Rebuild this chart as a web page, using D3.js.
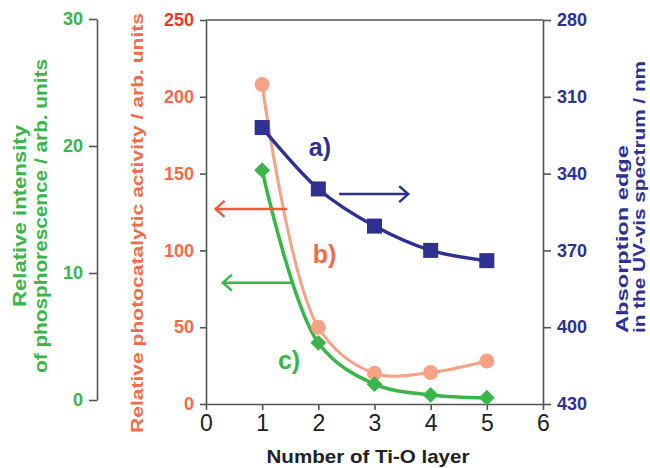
<!DOCTYPE html>
<html>
<head>
<meta charset="utf-8">
<script src="https://cdn.jsdelivr.net/npm/d3@7"></script>
<style>
  body { margin: 0; background: #fff; }
  svg { font-family: "Liberation Sans", Arial, Helvetica, sans-serif; }
</style>
</head>
<body>
<div id="chart-area"></div>
<script>
// data
const layers = [1, 2, 3, 4, 5]
const absorptionEdge = [322, 346, 360.5, 370, 374]      // a) nm, right axis
const photoActivity = [208, 50, 20, 20.5, 28]           // b) arb. units, red axis
const phosphorescence = [18.1, 4.5, 1.25, 0.4, 0.18]    // c) arb. units, green axis

const xTicks = [0, 1, 2, 3, 4, 5, 6]
const redTicks = [0, 50, 100, 150, 200, 250]
const greenTicks = [0, 10, 20, 30]
const blueTicks = [280, 310, 340, 370, 400, 430]

const blue = '#2e3192'
const salmon = '#f7a185'
const redText = '#f36a4c'
const green = '#39b54a'
const axisColor = '#555'

const plotLeft = 206, plotRight = 543, plotTop = 20, plotBottom = 404

const svg = d3.select('#chart-area').append('svg')
  .attr('width', 650)
  .attr('height', 468)

const x = d3.scaleLinear().domain([0, 6]).range([plotLeft, plotRight])
const yRed = d3.scaleLinear().domain([0, 250]).range([plotBottom, plotTop])
const yGreen = d3.scaleLinear().domain([0, 30]).range([400, 19])
const yBlue = d3.scaleLinear().domain([280, 430]).range([plotTop, plotBottom])

// top frame line
svg.append('line')
  .attr('x1', plotLeft).attr('x2', plotRight)
  .attr('y1', plotTop).attr('y2', plotTop)
  .attr('stroke', axisColor).attr('stroke-width', 1.6)

function styleAxis(g, color, size, weight) {
  g.select('.domain').attr('stroke', axisColor).attr('stroke-width', 1.6)
  g.selectAll('.tick line').attr('stroke', axisColor).attr('stroke-width', 1.6)
  g.selectAll('.tick text')
    .attr('fill', color)
    .attr('font-size', size)
    .attr('font-weight', weight)
    .attr('font-family', '"Liberation Sans", Arial, sans-serif')
}

// x axis
const xAxis = svg.append('g')
  .attr('transform', `translate(0,${plotBottom})`)
  .call(d3.axisBottom(x).tickValues(xTicks).tickFormat(d3.format('d'))
    .tickSize(6).tickSizeOuter(0).tickPadding(5))
styleAxis(xAxis, '#222', '23px', 'normal')

// red (left, frame) axis
const redAxis = svg.append('g')
  .attr('transform', `translate(${plotLeft},0)`)
  .call(d3.axisLeft(yRed).tickValues(redTicks).tickSize(6).tickSizeOuter(0).tickPadding(6))
styleAxis(redAxis, redText, '18px', 'bold')
redAxis.selectAll('.tick text').filter(d => d === 250).attr('fill', '#e8392b')

// green (far left) axis
const greenAxis = svg.append('g')
  .attr('transform', 'translate(97,0)')
  .call(d3.axisLeft(yGreen).tickValues(greenTicks).tickSize(8).tickSizeOuter(0).tickPadding(6))
styleAxis(greenAxis, green, '18px', 'bold')

// blue (right) axis
const blueAxis = svg.append('g')
  .attr('transform', `translate(${plotRight},0)`)
  .call(d3.axisRight(yBlue).tickValues(blueTicks).tickSize(8).tickSizeOuter(0).tickPadding(6))
styleAxis(blueAxis, blue, '18px', 'bold')

// axis titles
svg.append('text')
  .attr('x', 368)
  .attr('y', 463)
  .attr('text-anchor', 'middle')
  .attr('font-size', '19px')
  .attr('font-weight', 'bold')
  .attr('fill', '#222')
  .attr('textLength', 203)
  .attr('lengthAdjust', 'spacingAndGlyphs')
  .text('Number of Ti-O layer')

const greenTitle = svg.append('text')
  .attr('transform', 'translate(0,216) rotate(-90)')
  .attr('text-anchor', 'middle')
  .attr('font-size', '18px')
  .attr('font-weight', 'bold')
  .attr('fill', green)
greenTitle.append('tspan').attr('x', 0).attr('y', 26)
  .attr('textLength', 182).attr('lengthAdjust', 'spacingAndGlyphs')
  .text('Relative intensity')
greenTitle.append('tspan').attr('x', 0).attr('y', 47)
  .attr('textLength', 314).attr('lengthAdjust', 'spacingAndGlyphs')
  .text('of phosphorescence / arb. units')

svg.append('text')
  .attr('transform', 'translate(143,223) rotate(-90)')
  .attr('text-anchor', 'middle')
  .attr('font-size', '17px')
  .attr('font-weight', 'bold')
  .attr('fill', redText)
  .attr('textLength', 420)
  .attr('lengthAdjust', 'spacingAndGlyphs')
  .text('Relative photocatalytic activity / arb. units')

const blueTitle = svg.append('text')
  .attr('transform', 'translate(0,333) rotate(-90)')
  .attr('text-anchor', 'start')
  .attr('font-size', '17px')
  .attr('font-weight', 'bold')
  .attr('fill', blue)
blueTitle.append('tspan').attr('x', 0).attr('y', 628)
  .attr('textLength', 188).attr('lengthAdjust', 'spacingAndGlyphs')
  .text('Absorption edge')
blueTitle.append('tspan').attr('x', 0).attr('y', 645)
  .attr('textLength', 272).attr('lengthAdjust', 'spacingAndGlyphs')
  .text('in the UV-vis spectrum / nm')

// series
const curve = d3.curveCatmullRom.alpha(0.5)

const lineRed = d3.line().curve(curve).x((d, i) => x(layers[i])).y(d => yRed(d))
const lineGreen = d3.line().curve(curve).x((d, i) => x(layers[i])).y(d => yGreen(d))
const lineBlue = d3.line().curve(curve).x((d, i) => x(layers[i])).y(d => yBlue(d))

svg.append('path').datum(photoActivity)
  .attr('d', lineRed).attr('fill', 'none')
  .attr('stroke', salmon).attr('stroke-width', 3)

svg.append('path').datum(phosphorescence)
  .attr('d', lineGreen).attr('fill', 'none')
  .attr('stroke', green).attr('stroke-width', 3.5)

svg.append('path').datum(absorptionEdge)
  .attr('d', lineBlue).attr('fill', 'none')
  .attr('stroke', blue).attr('stroke-width', 3.5)

svg.selectAll('.pt-red').data(photoActivity).enter()
  .append('circle')
  .attr('class', 'pt-red')
  .attr('cx', (d, i) => x(layers[i]))
  .attr('cy', d => yRed(d))
  .attr('r', 7.5)
  .attr('fill', salmon)

svg.selectAll('.pt-green').data(phosphorescence).enter()
  .append('path')
  .attr('class', 'pt-green')
  .attr('d', d3.symbol(d3.symbolDiamond2, 160))
  .attr('transform', (d, i) => `translate(${x(layers[i])},${yGreen(d)})`)
  .attr('fill', green)

svg.selectAll('.pt-blue').data(absorptionEdge).enter()
  .append('rect')
  .attr('class', 'pt-blue')
  .attr('x', (d, i) => x(layers[i]) - 7.5)
  .attr('y', d => yBlue(d) - 7.5)
  .attr('width', 15)
  .attr('height', 15)
  .attr('fill', blue)

// arrows pointing to the axis of each series
function arrow(x1, x2, y, color) {
  const dir = x2 > x1 ? -1 : 1
  svg.append('line')
    .attr('x1', x1).attr('x2', x2).attr('y1', y).attr('y2', y)
    .attr('stroke', color).attr('stroke-width', 2.5)
  svg.append('path')
    .attr('d', `M${x2 + dir * 9},${y - 8}L${x2},${y}L${x2 + dir * 9},${y + 8}`)
    .attr('fill', 'none').attr('stroke', color).attr('stroke-width', 2.5)
}
arrow(x(1.44), x(0.17), yRed(127), '#f05a3c')
arrow(x(1.54), x(0.3), yRed(79), green)
arrow(x(2.37), x(3.6), yBlue(348), blue)

// series labels
svg.append('text').attr('x', x(1.83)).attr('y', yBlue(333))
  .attr('font-size', '25px').attr('font-weight', 'bold').attr('fill', blue).text('a)')
svg.append('text').attr('x', x(1.9)).attr('y', yRed(92))
  .attr('font-size', '25px').attr('font-weight', 'bold').attr('fill', redText).text('b)')
svg.append('text').attr('x', x(1.28)).attr('y', yRed(23))
  .attr('font-size', '25px').attr('font-weight', 'bold').attr('fill', green).text('c)')
</script>
</body>
</html>
